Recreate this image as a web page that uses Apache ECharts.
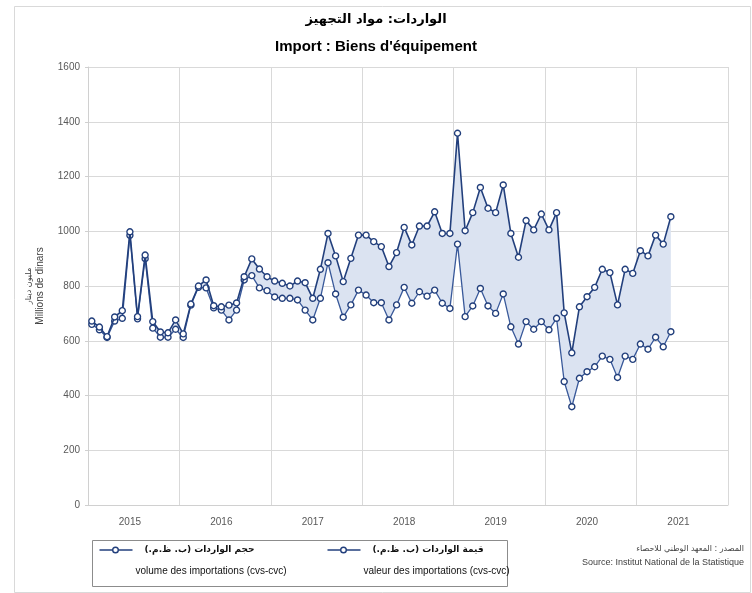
<!DOCTYPE html>
<html>
<head>
<meta charset="utf-8">
<script src="https://cdn.jsdelivr.net/npm/echarts@6/dist/echarts.min.js"></script>
<style>
  html, body { margin: 0; padding: 0; background: #fff; }
  #chart { width: 752px; height: 593px; }
</style>
</head>
<body>
<div id="chart"></div>
<script>
// years on the axis, data is monthly from Jan 2015 to May 2021
var years = ['2015', '2016', '2017', '2018', '2019', '2020', '2021']

// valeur des importations (cvs-cvc), millions de dinars
var valeur = [
  672, 650, 615, 687, 710, 998, 688, 913, 670, 632, 629, 676,
  625, 734, 800, 822, 728, 724, 730, 738, 834, 899, 862, 834,
  818, 810, 800, 818, 812, 755, 861, 992, 910, 816, 901, 986,
  986, 962, 944, 871, 922, 1014, 950, 1019, 1019, 1071, 992, 992,
  1358, 1002, 1068, 1160, 1084, 1068, 1169, 992, 905, 1039, 1005, 1063,
  1005, 1068, 702, 556, 724, 761, 795, 861, 849, 731, 861, 846,
  929, 910, 986, 953, 1053
]

// volume des importations (cvs-cvc)
var volume = [
  660, 640, 612, 672, 682, 985, 680, 900, 646, 613, 613, 642,
  612, 730, 795, 793, 720, 712, 676, 712, 822, 838, 793, 783,
  760, 755, 755, 749, 712, 676, 755, 885, 771, 686, 731, 785,
  767, 739, 739, 676, 731, 795, 737, 779, 763, 785, 737, 718,
  953, 688, 727, 791, 727, 700, 771, 651, 588, 670, 642, 670,
  640, 682, 451, 359, 463, 487, 505, 544, 532, 466, 544, 532,
  588, 569, 613, 578, 633
]

var yTicks = [0, 200, 400, 600, 800, 1000, 1200, 1400, 1600]

var months = []
years.forEach(function (y) {
  for (var m = 1; m <= 12; m++) {
    months.push(y + '-' + (m < 10 ? '0' + m : m))
  }
})

var gap = valeur.map(function (v, i) { return v - volume[i] })

var lineBlue = '#223f7c'
var lineBlue2 = '#39599a'
var font = "'Liberation Sans Narrow', 'Liberation Sans', sans-serif"
var arFont = "'DejaVu Sans', sans-serif"

var markerStyle = {
  color: '#ffffff',
  borderColor: lineBlue,
  borderWidth: 1.4
}

function legendItem (x, ar, fr) {
  return {
    type: 'group',
    left: x,
    top: 545,
    children: [
      { type: 'line', shape: { x1: 0, y1: 5, x2: 33, y2: 5 }, style: { stroke: lineBlue, lineWidth: 1.5 } },
      { type: 'circle', shape: { cx: 16, cy: 5, r: 2.8 }, style: { fill: '#fff', stroke: lineBlue, lineWidth: 1.4 } },
      { type: 'text', x: 45, y: 0, style: { text: ar, font: 'bold 9px ' + arFont, fill: '#111' } },
      { type: 'text', x: 36, y: 21, style: { text: fr, font: '10px ' + font, fill: '#111' } }
    ]
  }
}

var chart = echarts.init(document.getElementById('chart'))

chart.setOption({
  animation: false,
  backgroundColor: '#fff',
  title: [
    {
      text: 'الواردات: مواد التجهيز',
      left: 'center',
      top: 8,
      textStyle: { fontFamily: arFont, fontSize: 13, fontWeight: 'bold', color: '#000' }
    },
    {
      text: "Import : Biens d'équipement",
      left: 'center',
      top: 34,
      textStyle: { fontFamily: font, fontSize: 15, fontWeight: 'bold', color: '#000' }
    }
  ],
  grid: { left: 88, right: 24, top: 67, bottom: 88 },
  xAxis: {
    type: 'category',
    data: months,
    boundaryGap: true,
    axisLine: { lineStyle: { color: '#d0d0d0' } },
    axisTick: { show: false },
    axisLabel: {
      interval: function (i) { return i % 12 === 5 },
      formatter: function (v) { return v.slice(0, 4) },
      color: '#595959',
      fontFamily: font,
      fontSize: 10,
      margin: 12
    },
    splitLine: {
      show: true,
      interval: function (i) { return i % 12 === 0 },
      lineStyle: { color: '#d9d9d9' }
    }
  },
  yAxis: {
    type: 'value',
    min: yTicks[0],
    max: yTicks[yTicks.length - 1],
    interval: 200,
    axisLine: { show: true, lineStyle: { color: '#d0d0d0' } },
    axisTick: { show: true, length: 3, lineStyle: { color: '#d0d0d0' } },
    axisLabel: {
      color: '#595959',
      fontFamily: font,
      fontSize: 10,
      margin: 8,
      formatter: function (v) { return String(v) }
    },
    splitLine: { lineStyle: { color: '#d9d9d9' } },
    name: '{ar|مليون دينار}\n{fr|Millions de dinars}',
    nameLocation: 'middle',
    nameRotate: 90,
    nameGap: 42,
    nameTextStyle: {
      rich: {
        ar: { fontFamily: arFont, fontSize: 8, color: '#404040', lineHeight: 11 },
        fr: { fontFamily: font, fontSize: 10, color: '#404040', lineHeight: 12 }
      }
    }
  },
  series: [
    {
      name: 'base',
      type: 'line',
      data: volume,
      stack: 'band',
      symbol: 'none',
      lineStyle: { opacity: 0 },
      silent: true,
      z: 1
    },
    {
      name: 'band',
      type: 'line',
      data: gap,
      stack: 'band',
      symbol: 'none',
      lineStyle: { opacity: 0 },
      areaStyle: { color: '#dbe3f1', opacity: 1 },
      silent: true,
      z: 1
    },
    {
      name: 'volume des importations (cvs-cvc)',
      type: 'line',
      data: volume,
      symbol: 'circle',
      symbolSize: 6,
      showAllSymbol: true,
      lineStyle: { color: lineBlue2, width: 1.3 },
      itemStyle: markerStyle,
      z: 3
    },
    {
      name: 'valeur des importations (cvs-cvc)',
      type: 'line',
      data: valeur,
      symbol: 'circle',
      symbolSize: 6,
      showAllSymbol: true,
      lineStyle: { color: lineBlue, width: 1.6 },
      itemStyle: markerStyle,
      z: 4
    }
  ],
  graphic: [
    { type: 'rect', left: 12, top: 4, shape: { width: 736, height: 586 }, style: { fill: 'none', stroke: '#d9d9d9', lineWidth: 1 } },
    { type: 'rect', left: 90, top: 538, shape: { width: 415, height: 46 }, style: { fill: 'none', stroke: '#8c8c8c', lineWidth: 1 } },
    legendItem(97, 'حجم الواردات (ب. ظ.م.)', 'volume des importations (cvs-cvc)'),
    legendItem(325, 'قيمة الواردات (ب. ظ.م.)', 'valeur des importations (cvs-cvc)'),
    { type: 'text', right: 8, top: 545, style: { text: 'المصدر : المعهد الوطني للاحصاء', font: '8px ' + arFont, fill: '#404040', textAlign: 'right' } },
    { type: 'text', right: 8, top: 558, style: { text: 'Source: Institut National de la Statistique', font: '9px ' + font, fill: '#404040', textAlign: 'right' } }
  ]
})
</script>
</body>
</html>
